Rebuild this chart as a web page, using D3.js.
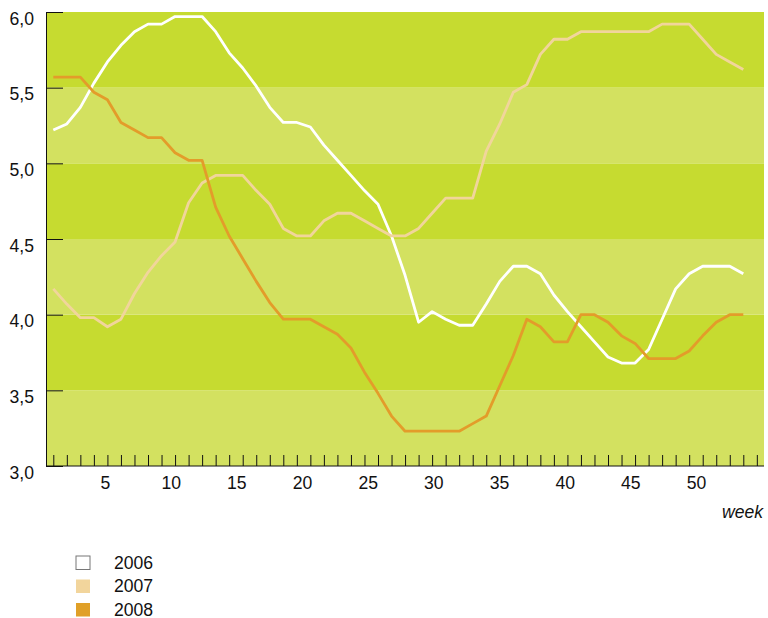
<!DOCTYPE html>
<html>
<head>
<meta charset="utf-8">
<script src="https://cdn.jsdelivr.net/npm/d3@7"></script>
<style>
  body { margin: 0; background: #fff; }
  text { font-family: "Liberation Sans", Arial, Helvetica, sans-serif; }
</style>
</head>
<body>
<div id="chart"></div>
<script>
// ─── DATA ─────────────────────────────────────────────────────────────────────
const weeks = d3.range(1, 53);
const years = ["2006", "2007", "2008"];
const values2006 = [5.22, 5.26, 5.37, 5.53, 5.67, 5.78, 5.87, 5.92, 5.92, 5.97, 5.97, 5.97, 5.87,
  5.73, 5.63, 5.51, 5.37, 5.27, 5.27, 5.24, 5.12, 5.02, 4.92, 4.82, 4.73, 4.52, 4.26, 3.95, 4.02,
  3.97, 3.93, 3.93, 4.07, 4.22, 4.32, 4.32, 4.27, 4.13, 4.02, 3.92, 3.82, 3.72, 3.68, 3.68, 3.77,
  3.97, 4.17, 4.27, 4.32, 4.32, 4.32, 4.27];
const values2007 = [4.17, 4.07, 3.98, 3.98, 3.92, 3.97, 4.14, 4.28, 4.39, 4.48, 4.74, 4.87, 4.92,
  4.92, 4.92, 4.82, 4.73, 4.57, 4.52, 4.52, 4.62, 4.67, 4.67, 4.62, 4.57, 4.52, 4.52, 4.57, 4.67,
  4.77, 4.77, 4.77, 5.08, 5.26, 5.47, 5.52, 5.72, 5.82, 5.82, 5.87, 5.87, 5.87, 5.87, 5.87, 5.87,
  5.92, 5.92, 5.92, 5.82, 5.72, 5.67, 5.62];
const values2008 = [5.57, 5.57, 5.57, 5.47, 5.42, 5.27, 5.22, 5.17, 5.17, 5.07, 5.02, 5.02, 4.71,
  4.52, 4.37, 4.22, 4.08, 3.97, 3.97, 3.97, 3.92, 3.87, 3.78, 3.62, 3.48, 3.33, 3.23, 3.23, 3.23,
  3.23, 3.23, 3.28, 3.33, 3.53, 3.73, 3.97, 3.92, 3.82, 3.82, 4.0, 4.0, 3.95, 3.86, 3.81, 3.71,
  3.71, 3.71, 3.76, 3.86, 3.95, 4.0, 4.0];
const yTicks = [3, 3.5, 4, 4.5, 5, 5.5, 6];
const xLabels = [5, 10, 15, 20, 25, 30, 35, 40, 45, 50];

const seriesValues = [values2006, values2007, values2008];
const lineColors = ["#ffffff", "#f1d59b", "#e39c2a"];
const legendFill = ["#ffffff", "#f2d59c", "#e0a028"];

// ─── LAYOUT ───────────────────────────────────────────────────────────────────
const width = 768, height = 618;
const plotLeft = 46, plotRight = 764, plotTop = 12, plotBottom = 466;
const fontSize = "17.6px";

const svg = d3.select("#chart").append("svg")
  .attr("width", width)
  .attr("height", height);

const y = d3.scaleLinear().domain([3, 6]).range([plotBottom, plotTop]);
// data points / minor ticks, one per week
const x = d3.scaleLinear().domain([1, 52]).range([53.3, 743.3]);
// the week labels sit on their own spacing in the original
const xLab = d3.scaleLinear().domain([5, 50]).range([105, 696]);

// ─── BACKGROUND BANDS ─────────────────────────────────────────────────────────
const bands = yTicks.slice(0, -1).map((v, i) => ({ lo: v, hi: yTicks[i + 1], i }));
svg.selectAll(".band")
  .data(bands)
  .enter()
  .append("rect")
  .attr("x", plotLeft)
  .attr("width", plotRight - plotLeft)
  .attr("y", d => y(d.hi))
  .attr("height", d => y(d.lo) - y(d.hi))
  .attr("fill", d => d.i % 2 === 0 ? "#d3e160" : "#c6db30");

// ─── LINES ────────────────────────────────────────────────────────────────────
const line = d3.line()
  .x((d, i) => x(weeks[i]))
  .y(d => y(d));

svg.selectAll(".series")
  .data(seriesValues)
  .enter()
  .append("path")
  .attr("fill", "none")
  .attr("stroke", (d, i) => lineColors[i])
  .attr("stroke-width", 2.8)
  .attr("stroke-linejoin", "round")
  .attr("d", line);

// ─── AXES ─────────────────────────────────────────────────────────────────────
const yAxis = svg.append("g")
  .attr("transform", `translate(${plotLeft},0)`)
  .call(d3.axisLeft(y)
    .tickValues(yTicks)
    .tickSizeInner(-17)
    .tickSizeOuter(0)
    .tickPadding(12)
    .tickFormat(d => d3.format(".1f")(d).replace(".", ",")));
yAxis.select(".domain").attr("stroke", "#111");
yAxis.selectAll("line").attr("stroke", "#111");
yAxis.selectAll("text")
  .attr("dy", 12.3)
  .attr("fill", "#111")
  .style("font-size", fontSize);

const xTicks = svg.append("g")
  .attr("transform", `translate(0,${plotBottom})`)
  .call(d3.axisBottom(x)
    .tickValues(d3.range(1, 54))
    .tickSizeInner(-11)
    .tickSizeOuter(0)
    .tickFormat(""));
xTicks.select(".domain").remove();
xTicks.selectAll("line").attr("stroke", "#111");

svg.append("line")
  .attr("x1", plotLeft).attr("x2", plotRight)
  .attr("y1", plotBottom).attr("y2", plotBottom)
  .attr("stroke", "#111");

const xAxis = svg.append("g")
  .attr("transform", `translate(0,${plotBottom})`)
  .call(d3.axisBottom(xLab).tickValues(xLabels).tickSize(0).tickPadding(0));
xAxis.select(".domain").remove();
xAxis.selectAll("text")
  .attr("y", 23)
  .attr("dy", 0)
  .attr("fill", "#111")
  .style("font-size", fontSize);

svg.append("text")
  .attr("x", 763)
  .attr("y", 518)
  .attr("text-anchor", "end")
  .style("font-size", fontSize)
  .style("font-style", "italic")
  .attr("fill", "#111")
  .text("week");

// ─── LEGEND ───────────────────────────────────────────────────────────────────
const legend = svg.selectAll(".legend")
  .data(years)
  .enter()
  .append("g")
  .attr("transform", (d, i) => `translate(76,${556 + i * 23.5})`);

legend.append("rect")
  .attr("width", 14)
  .attr("height", 13.5)
  .attr("fill", (d, i) => legendFill[i])
  .attr("stroke", (d, i) => i === 0 ? "#777" : "none")
  .attr("stroke-width", 1);

legend.append("text")
  .attr("x", 38)
  .attr("y", 12.8)
  .attr("fill", "#111")
  .style("font-size", fontSize)
  .text(d => d);
</script>
</body>
</html>
